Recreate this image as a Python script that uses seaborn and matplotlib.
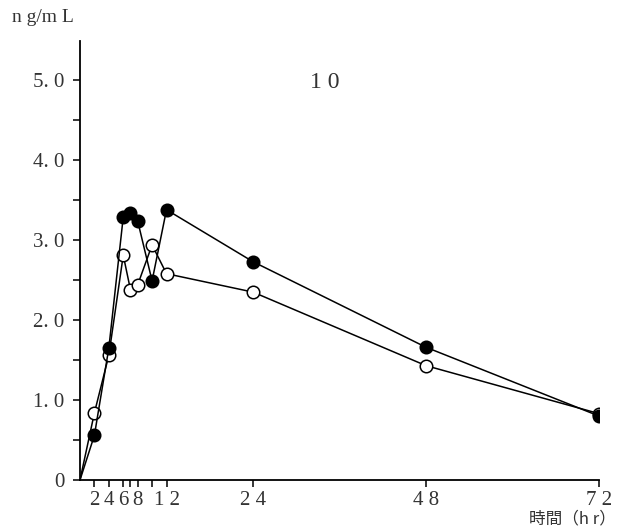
import matplotlib
matplotlib.use("Agg")
import matplotlib.pyplot as plt
import seaborn as sns
import pandas as pd

# data
hours = [0, 2, 4, 6, 7, 8, 10, 12, 24, 48, 72]
filled = [0, 0.56, 1.65, 3.29, 3.34, 3.24, 2.49, 3.38, 2.73, 1.66, 0.80]
opened = [0, 0.84, 1.56, 2.81, 2.38, 2.44, 2.94, 2.58, 2.35, 1.43, 0.83]
x_ticks = [2, 4, 6, 7, 8, 10, 12, 24, 48, 72]
x_labels = {2: "2", 4: "4", 6: "6", 8: "8", 12: "1 2", 24: "2 4", 48: "4 8", 72: "7 2"}
y_major = [0, 1.0, 2.0, 3.0, 4.0, 5.0]
y_labels = ["0", "1. 0", "2. 0", "3. 0", "4. 0", "5. 0"]
y_minor = [0.5, 1.5, 2.5, 3.5, 4.5]

sns.set_theme(style="ticks")
serif = ["Liberation Serif", "DejaVu Serif"]
plt.rcParams["font.family"] = serif

df_f = pd.DataFrame({"t": hours, "c": filled})
df_o = pd.DataFrame({"t": hours, "c": opened})

fig = plt.figure(figsize=(6.17, 5.30), dpi=100)
ax = fig.add_axes([80 / 617, 50 / 530, 519 / 617, 439 / 530])

mk = list(range(1, len(hours)))
sns.lineplot(data=df_o, x="t", y="c", ax=ax, color="black", lw=1.1,
             marker="o", markersize=9, markerfacecolor="white",
             markeredgecolor="black", markeredgewidth=1.1, markevery=mk)
sns.lineplot(data=df_f, x="t", y="c", ax=ax, color="black", lw=1.1,
             marker="o", markersize=9, markerfacecolor="black",
             markeredgecolor="black", markeredgewidth=1.1, markevery=mk)

ax.set_xlim(0, 72)
ax.set_ylim(0, 5.49)
ax.set_xlabel("")
ax.set_ylabel("")
sns.despine(ax=ax)
for s in ["left", "bottom"]:
    ax.spines[s].set_linewidth(1.3)
    ax.spines[s].set_color("black")

ax.set_xticks(x_ticks)
ax.set_xticklabels([x_labels.get(t, "") for t in x_ticks], fontsize=15, color="#333333")
ax.set_yticks(y_major)
ax.set_yticklabels(y_labels, fontsize=15, color="#333333")
ax.set_yticks(y_minor, minor=True)
ax.tick_params(axis="both", which="both", direction="out", length=5, width=1.1, color="black")
ax.tick_params(axis="x", pad=3)
ax.tick_params(axis="y", pad=6)

fig.text(12 / 617, 1 - 18 / 530, "n g/m L", fontsize=14, va="center", ha="left", color="#333333")
fig.text(325 / 617, 1 - 82 / 530, "1 0", fontsize=17, va="center", ha="center", color="#333333")
fig.text(616 / 617, 1 - 519 / 530, "時間（h r）", fontsize=12, va="center", ha="right",
         family=["Noto Sans CJK JP", "Liberation Serif"], color="#333333")

fig.savefig("out.png", dpi=100)
